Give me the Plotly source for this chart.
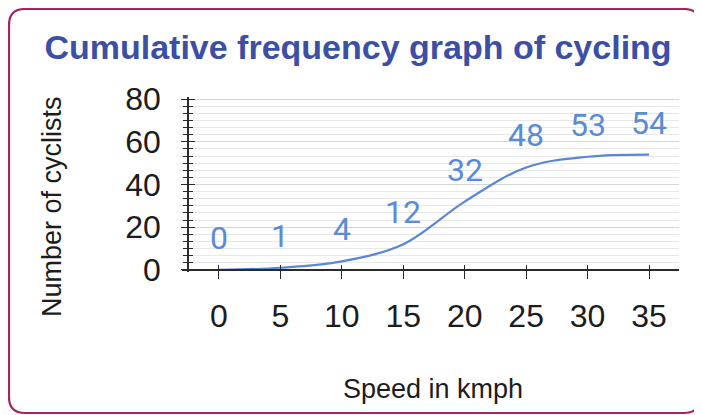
import plotly.graph_objects as go

# ---- data ----
speed = [0, 5, 10, 15, 20, 25, 30, 35]
cyclists = [0, 1, 4, 12, 32, 48, 53, 54]
x_ticks = [0, 5, 10, 15, 20, 25, 30, 35]
y_ticks = [0, 20, 40, 60, 80]

title_text = "Cumulative frequency graph of cycling"
x_title = "Speed in kmph"
y_title = "Number of cyclists"

# ---- layout geometry (page pixels; the page body has an 8px margin) ----
OFF = 8
W, H = 702 - OFF, 415 - OFF
ML, MR, MT, MB = 182 - OFF, 23, 97 - OFF, 143
PW, PH = W - ML - MR, H - MT - MB
XR = [-3.01, 37.44]
YR = [-1, 81]

def px_x(p):
    return (p - OFF - ML) / PW

def px_y(p):
    return (H - MB - (p - OFF)) / PH

LINE_BLUE = "#5a87d5"
LABEL_BLUE = "#5b8bd6"
TITLE_BLUE = "#3b4fa5"
AXIS = "#2a2a2a"
TXT = "#1c1c1c"

fig = go.Figure()
fig.add_trace(go.Scatter(
    x=speed, y=cyclists, mode="lines",
    line=dict(color=LINE_BLUE, width=2.2, shape="spline", smoothing=1.0),
    hoverinfo="skip", showlegend=False))
# helper (empty) traces so the overlay axes are rendered
fig.add_trace(go.Scatter(x=[], y=[], xaxis="x2", yaxis="y", showlegend=False))
fig.add_trace(go.Scatter(x=[], y=[], xaxis="x", yaxis="y2", showlegend=False))

for xv, yv in zip(speed, cyclists):
    fig.add_annotation(x=xv, y=yv, text=str(yv), showarrow=False,
                       yshift=32, font=dict(family="Roboto", size=32, color=LABEL_BLUE))

y0_pos = (0 - YR[0]) / (YR[1] - YR[0])
yaxis_pos = px_x(188)

common_y = dict(range=YR, anchor="free", position=yaxis_pos,
                tickmode="array", tickvals=y_ticks, zeroline=False)

fig.update_layout(
    width=W, height=H,
    margin=dict(l=ML, r=MR, t=MT, b=MB, autoexpand=False),
    paper_bgcolor="white", plot_bgcolor="white",
    title=dict(text=title_text, x=(358 - OFF) / W, xanchor="center",
               y=1 - (47 - OFF) / H, yanchor="middle", yref="container",
               xref="container",
               font=dict(family="Liberation Sans", size=34, color=TITLE_BLUE, weight="bold")),
    xaxis=dict(range=XR, anchor="free", position=y0_pos, tickmode="array",
               tickvals=x_ticks, ticktext=[str(v) for v in x_ticks],
               showline=True, linecolor=AXIS, linewidth=1.5,
               ticks="outside", ticklen=8, tickcolor=AXIS, tickwidth=1.3,
               ticklabelstandoff=10, showgrid=False, zeroline=False,
               tickfont=dict(family="Liberation Sans", size=32, color=TXT)),
    xaxis2=dict(range=XR, overlaying="x", anchor="free", position=y0_pos,
                tickmode="array", tickvals=x_ticks, showticklabels=False,
                ticks="inside", ticklen=5, tickcolor=AXIS, tickwidth=1.3,
                showline=False, showgrid=False, zeroline=False),
    yaxis=dict(**common_y, showline=True, linecolor=AXIS, linewidth=1.5,
               ticks="outside", ticklen=6, tickcolor=AXIS, tickwidth=1.3,
               ticklabelstandoff=14,
               showgrid=True, gridcolor="#d6d6d6", gridwidth=1,
               minor=dict(dtick=20 / 6, tick0=0, ticks="outside", ticklen=4,
                          tickcolor=AXIS, tickwidth=1, showgrid=True,
                          gridcolor="#e8e8e8", gridwidth=1),
               tickfont=dict(family="Liberation Sans", size=32, color=TXT)),
    yaxis2=dict(**common_y, overlaying="y", showline=False, showgrid=False,
                showticklabels=False, ticks="inside", ticklen=6, tickcolor=AXIS,
                tickwidth=1.3,
                minor=dict(dtick=20 / 6, tick0=0, ticks="inside", ticklen=4,
                           tickcolor=AXIS, tickwidth=1, showgrid=False)),
)

fig.add_annotation(x=px_x(52), y=px_y(207), xref="paper", yref="paper",
                   xanchor="center", yanchor="middle",
                   text=y_title, textangle=-90, showarrow=False,
                   font=dict(family="Liberation Sans", size=27, color=TXT))
fig.add_annotation(x=px_x(433), y=px_y(389), xref="paper", yref="paper",
                   xanchor="center", yanchor="middle",
                   text=x_title, showarrow=False,
                   font=dict(family="Liberation Sans", size=27, color=TXT))

# rounded border frame (page coordinates)
L, T, R, B, r = 9, 9, 700, 413, 16
def P(a, b):
    return f"{px_x(a):.5f},{px_y(b):.5f}"
path = (f"M {P(L, T + r)} Q {P(L, T)} {P(L + r, T)} L {P(R - r, T)} "
        f"Q {P(R, T)} {P(R, T + r)} L {P(R, B - r)} Q {P(R, B)} {P(R - r, B)} "
        f"L {P(L + r, B)} Q {P(L, B)} {P(L, B - r)} Z")
fig.add_shape(type="path", path=path, xref="paper", yref="paper",
              line=dict(color="#a3245e", width=2.2), fillcolor="rgba(0,0,0,0)",
              layer="below")

fig.write_html("out.html")
